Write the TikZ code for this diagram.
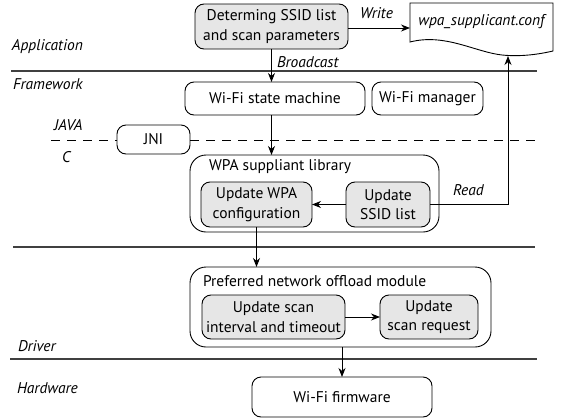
\documentclass[tikz,border=0pt]{standalone}
\usepackage{fontspec}
\setmainfont{PT Sans}
\usetikzlibrary{arrows.meta}
\definecolor{boxgray}{HTML}{E6E6E6}
\tikzset{
  every node/.style={font=\fontsize{15.5}{19.5}\selectfont, inner sep=0pt, outer sep=0pt},
  box/.style={draw, line width=0.9pt, rounded corners=9pt, align=center},
  graybox/.style={box, fill=boxgray},
  container/.style={draw, line width=0.9pt, rounded corners=16pt},
  lay/.style={anchor=west, font=\fontsize{15.5}{17}\selectfont\itshape},
  sep/.style={line width=1.4pt, black!75},
  arr/.style={line width=0.9pt, -{Stealth[length=9pt,width=7pt]}},
}
\begin{document}
\begin{tikzpicture}[x=1pt,y=-1pt]
\useasboundingbox (0,0) rectangle (563,418);
% separators
\draw[sep] (11,71) -- (537,71);
\draw[sep] (13,247) -- (535,247);
\draw[sep] (10,359) -- (537,359);
% layer labels
\node[lay] (lapp) at (12,47) {Application};
\node[lay] (lfw) at (13,84) {Framework};
\node[lay] (ljava) at (54,125) {JAVA};
\node[lay] (lc) at (62,157) {C};
\node[lay] (ldrv) at (18,346) {Driver};
\node[lay] (lhw) at (17,388) {Hardware};
% nodes
\node[graybox, minimum width=153pt, minimum height=45pt] (det) at (271.5,26.5) {Determing SSID list\\and scan parameters};
\node[minimum width=143pt, minimum height=50pt] (doc) at (481.5,28) {};
\draw[line width=0.9pt] (410,3) -- (553,3) -- (553,51)
  .. controls (540,54) and (522,57) .. (502,55)
  .. controls (475,52) and (445,33) .. (410,42) -- cycle;
\node[font=\fontsize{15.5}{17}\selectfont\itshape] (doct) at (481.5,22) {wpa\_supplicant.conf};
\node[box, minimum width=180pt, minimum height=33pt] (wsm) at (275,98.5) {Wi-Fi state machine};
\node[box, minimum width=111pt, minimum height=33pt] (wm) at (427.5,98.5) {Wi-Fi manager};
\node[box, minimum width=73pt, minimum height=29pt] (jni) at (153.5,139.5) {JNI};
\draw[line width=0.9pt, dash pattern=on 9pt off 7pt] (51,140) -- (jni.west |- 0,140);
\draw[line width=0.9pt, dash pattern=on 9pt off 7pt] (jni.east |- 0,140) -- (537,140);
\node[container, minimum width=249pt, minimum height=77pt] (wpalib) at (314.5,193.5) {};
\node[anchor=west] (wpalibl) at (209,167) {WPA suppliant library};
\node[graybox, minimum width=111pt, minimum height=45pt] (wpacfg) at (256.5,204.5) {Update WPA\\configuration};
\node[graybox, minimum width=84pt, minimum height=45pt] (ssid) at (388,204.5) {Update\\SSID list};
\node[container, minimum width=301pt, minimum height=80pt] (pno) at (340.5,307) {};
\node[anchor=west] (pnol) at (203,281) {Preferred network offload module};
\node[graybox, minimum width=143pt, minimum height=44pt] (scani) at (273.5,317) {Update scan\\interval and timeout};
\node[graybox, minimum width=98pt, minimum height=44pt] (scanr) at (429,317) {Update\\scan request};
\node[box, minimum width=180pt, minimum height=40pt] (fw) at (342,397) {Wi-Fi firmware};
% connector labels
\node[lay] (lwrite) at (360,13) {Write};
\node[lay] (lbc) at (277,62) {Broadcast};
\node[lay] (lread) at (453,190) {Read};
% connectors
\coordinate (rd) at (508,56);
\draw[arr] (det.east |- doc.west) -- (doc.west);
\draw[arr] (det.south) -- (det.south |- wsm.north);
\draw[arr] (wsm.south -| det.south) -- (det.south |- wpalib.north);
\draw[arr] (ssid.west) -- (wpacfg.east);
\draw[arr] (ssid.east) -| (rd);
\draw[arr] (wpacfg.south) -- (wpacfg.south |- pno.north);
\draw[arr] (scani.east) -- (scanr.west);
\draw[arr] (fw.north |- pno.south) -- (fw.north);
\end{tikzpicture}
\end{document}
